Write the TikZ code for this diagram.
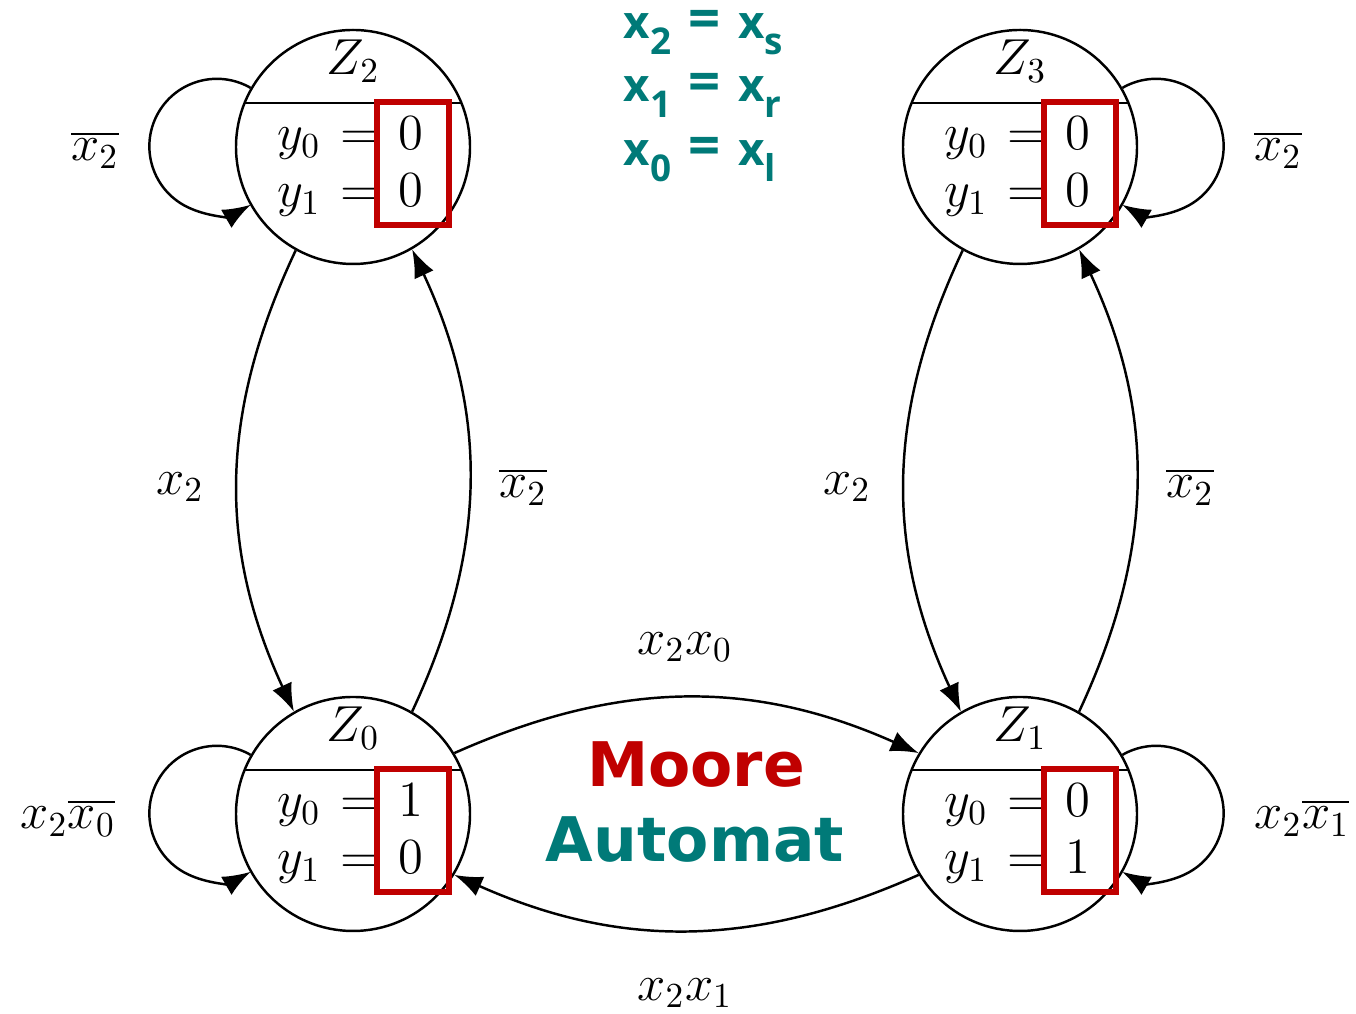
\documentclass[tikz,border=0pt]{standalone}
\usepackage{fontspec}
\usetikzlibrary{arrows.meta,calc}
\newfontfamily\keyfont{Open Sans}
\newfontfamily\titlefont{DejaVu Sans}
\definecolor{boxred}{RGB}{192,0,0}
\definecolor{keyteal}{RGB}{0,122,120}
\newcommand{\lowsub}[1]{\raisebox{-4.3pt}{\fontsize{10.5}{12}\selectfont #1}}
\newcommand{\keyeq}{\hspace{5pt}{\fontsize{16}{16}\selectfont =}\hspace{5pt}}
\begin{document}
\begin{tikzpicture}[
        every node/.style = {font=\Large},
        state/.style = {
            draw,
            circle,
            line width = 0.7pt,
            minimum size = 2.34cm,
            inner sep = 0pt
        },
        edge/.style = {
            draw,
            line width = 0.7pt,
            -{Latex[length=2.8mm,width=2.1mm]}
        },
        redbox/.style = {
            draw = boxred,
            line width = 1.8pt
        },
        keytext/.style = {
            font = \keyfont\bfseries\fontsize{13}{15}\selectfont,
            text = keyteal,
            inner sep = 0pt
        }
    ]
    \useasboundingbox (0,0) rectangle (13.56,10.14);

    % states
    \foreach \n/\x/\y/\a/\b in {0/3.53/2.00/1/0, 1/10.20/2.00/0/1, 2/3.53/8.67/0/0, 3/10.20/8.67/0/0} {
        \node[state] (z\n) at (\x,\y) {};
        \node[anchor=base] (z\n-name) at ($(z\n)+(0,0.72)$) {$Z_\n$};
        \draw[line width=0.7pt] ($(z\n)+(-1.084,0.44)$) -- ($(z\n)+(1.084,0.44)$);
        \node[anchor=base east, inner sep=0pt] (z\n-out0) at ($(z\n)+(0.71,-0.03)$) {$y_0 \mskip2mu=\mskip2mu \a$};
        \node[anchor=base east, inner sep=0pt] (z\n-out1) at ($(z\n)+(0.71,-0.60)$) {$y_1 \mskip2mu=\mskip2mu \b$};
        \draw[redbox] ($(z\n)+(0.24,0.45)$) rectangle ($(z\n)+(0.96,-0.78)$);
    }

    % transitions
    \draw[edge] (z2.150) arc[start angle=60, end angle=300, radius=0.675cm];
    \draw[edge] (z3.30) arc[start angle=120, end angle=-120, radius=0.675cm];
    \draw[edge] (z0.150) arc[start angle=60, end angle=300, radius=0.675cm];
    \draw[edge] (z1.30) arc[start angle=120, end angle=-120, radius=0.675cm];
    \draw[edge] (z2.241) to[bend right=25] (z0.120);
    \draw[edge] (z0.60) to[bend right=25] (z2.300);
    \draw[edge] (z3.241) to[bend right=25] (z1.120);
    \draw[edge] (z1.60) to[bend right=25] (z3.300);
    \draw[edge] (z0.31) to[bend left=24] (z1.149);
    \draw[edge] (z1.211) to[bend left=24] (z0.329);

    % transition labels
    \node (l-z2loop) at (0.95,8.64) {$\overline{x_2}$};
    \node (l-z3loop) at (12.78,8.64) {$\overline{x_2}$};
    \node (l-z0loop) at (0.68,1.96) {$x_2\overline{x_0}$};
    \node (l-z1loop) at (13.02,1.96) {$x_2\overline{x_1}$};
    \node (l-z2z0) at (1.80,5.27) {$x_2$};
    \node (l-z0z2) at (5.23,5.27) {$\overline{x_2}$};
    \node (l-z3z1) at (8.47,5.27) {$x_2$};
    \node (l-z1z3) at (11.90,5.27) {$\overline{x_2}$};
    \node (l-z0z1) at (6.85,3.67) {$x_2x_0$};
    \node (l-z1z0) at (6.85,0.21) {$x_2x_1$};

    % input names
    \node[keytext, anchor=base west] (key2) at (6.23,9.75) {x\lowsub{2}\keyeq x\lowsub{s}};
    \node[keytext, anchor=base west] (key1) at (6.23,9.12) {x\lowsub{1}\keyeq x\lowsub{r}};
    \node[keytext, anchor=base west] (key0) at (6.23,8.48) {x\lowsub{0}\keyeq x\lowsub{l}};

    % title
    \node[font=\titlefont\bfseries\fontsize{17.5}{20}\selectfont, text=boxred, anchor=base] (title1) at (6.96,2.27) {Moore};
    \node[font=\titlefont\bfseries\fontsize{17.5}{20}\selectfont, text=keyteal, anchor=base] (title2) at (6.95,1.52) {Automat};
\end{tikzpicture}
\end{document}
